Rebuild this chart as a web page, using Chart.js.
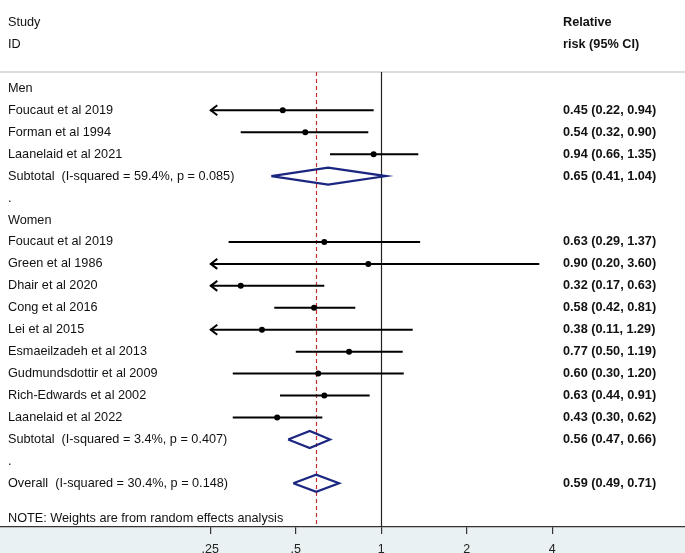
<!DOCTYPE html>
<html>
<head>
<meta charset="utf-8">
<script src="https://cdn.jsdelivr.net/npm/chart.js@4.4.1/dist/chart.umd.min.js"></script>
<style>
  html, body { margin: 0; padding: 0; background: #fff; }
</style>
</head>
<body>
<canvas id="forest" width="685" height="553"></canvas>
<script>
// Men
const menStudies = ['Foucaut et al 2019', 'Forman et al 1994', 'Laanelaid et al 2021'];
const menRR = [0.45, 0.54, 0.94];
const menLower = [0.22, 0.32, 0.66];
const menUpper = [0.94, 0.90, 1.35];
const menSubtotal = [0.65, 0.41, 1.04];
const menHet = 'Subtotal  (I-squared = 59.4%, p = 0.085)';

// Women
const womenStudies = ['Foucaut et al 2019', 'Green et al 1986', 'Dhair et al 2020', 'Cong et al 2016',
    'Lei et al 2015', 'Esmaeilzadeh et al 2013', 'Gudmundsdottir et al 2009', 'Rich-Edwards et al 2002',
    'Laanelaid et al 2022'];
const womenRR = [0.63, 0.90, 0.32, 0.58, 0.38, 0.77, 0.60, 0.63, 0.43];
const womenLower = [0.29, 0.20, 0.17, 0.42, 0.11, 0.50, 0.30, 0.44, 0.30];
const womenUpper = [1.37, 3.60, 0.63, 0.81, 1.29, 1.19, 1.20, 0.91, 0.62];
const womenSubtotal = [0.56, 0.47, 0.66];
const womenHet = 'Subtotal  (I-squared = 3.4%, p = 0.407)';

// Overall
const overall = [0.59, 0.49, 0.71];
const overallHet = 'Overall  (I-squared = 30.4%, p = 0.148)';

// Axis
const xTicks = [0.25, 0.5, 1, 2, 4];
const xTickLabels = ['.25', '.5', '1', '2', '4'];
const xClip = [0.25, 4];

const FONT = '"Liberation Sans", Arial, sans-serif';
const TEXT_COLOR = '#111';
const DIAMOND_COLOR = '#1b2680';

// Build rows (row index = position from top)
const rows = [];
function addGroup(name, studies, rr, lo, hi, sub, het) {
    rows.push({ kind: 'group', label: name });
    studies.forEach((s, i) => rows.push({ kind: 'study', label: s, rr: rr[i], lo: lo[i], hi: hi[i] }));
    rows.push({ kind: 'pooled', label: het, rr: sub[0], lo: sub[1], hi: sub[2] });
    rows.push({ kind: 'blank', label: '.' });
}
addGroup('Men', menStudies, menRR, menLower, menUpper, menSubtotal, menHet);
addGroup('Women', womenStudies, womenRR, womenLower, womenUpper, womenSubtotal, womenHet);
rows.push({ kind: 'pooled', label: overallHet, rr: overall[0], lo: overall[1], hi: overall[2] });
rows.forEach((r, i) => { r.y = i + 3; });

const fmt = v => v.toFixed(2);

// Datasets
const datasets = [];
rows.filter(r => r.kind === 'study').forEach(r => {
    datasets.push({
        data: [{ x: Math.max(r.lo, xClip[0]), y: r.y }, { x: Math.min(r.hi, xClip[1]), y: r.y }],
        showLine: true,
        borderColor: '#000',
        borderWidth: 2,
        pointRadius: 0
    });
});
datasets.push({
    data: rows.filter(r => r.kind === 'study').map(r => ({ x: r.rr, y: r.y })),
    pointRadius: 3,
    backgroundColor: '#000',
    borderWidth: 0
});
const halfH = 0.39;
rows.filter(r => r.kind === 'pooled').forEach(r => {
    datasets.push({
        data: [
            { x: r.lo, y: r.y }, { x: r.rr, y: r.y - halfH }, { x: r.hi, y: r.y },
            { x: r.rr, y: r.y + halfH }, { x: r.lo, y: r.y }
        ],
        showLine: true,
        borderColor: DIAMOND_COLOR,
        borderWidth: 2.2,
        pointRadius: 0
    });
});

// Reference lines, separator, axis background
const backdrop = {
    id: 'backdrop',
    beforeDraw(chart) {
        const { ctx, chartArea } = chart;
        ctx.save();
        ctx.fillStyle = '#e9f1f3';
        ctx.fillRect(0, chartArea.bottom, chart.width, chart.height - chartArea.bottom);
        ctx.restore();
    },
    beforeDatasetsDraw(chart) {
        const { ctx, chartArea, scales } = chart;
        const top = scales.y.getPixelForValue(2.25);
        ctx.save();
        ctx.strokeStyle = '#d0d0d0';
        ctx.lineWidth = 1.5;
        ctx.beginPath();
        ctx.moveTo(0, top);
        ctx.lineTo(chart.width, top);
        ctx.stroke();

        const x1 = Math.round(scales.x.getPixelForValue(1)) + 0.5;
        ctx.strokeStyle = '#222';
        ctx.lineWidth = 1.2;
        ctx.beginPath();
        ctx.moveTo(x1, top);
        ctx.lineTo(x1, chartArea.bottom);
        ctx.stroke();

        const xo = Math.round(scales.x.getPixelForValue(overall[0])) + 0.5;
        ctx.strokeStyle = '#c03030';
        ctx.lineWidth = 1.2;
        ctx.setLineDash([4, 3]);
        ctx.beginPath();
        ctx.moveTo(xo, top);
        ctx.lineTo(xo, chartArea.bottom);
        ctx.stroke();
        ctx.restore();
    }
};

// Labels, estimates and arrowheads
const forestText = {
    id: 'forestText',
    afterDraw(chart) {
        const { ctx, scales } = chart;
        const yPx = v => scales.y.getPixelForValue(v);
        const labelX = 8, estX = 563;
        const reg = '12.7px ' + FONT, bold = 'bold 12.7px ' + FONT;
        ctx.save();
        ctx.fillStyle = TEXT_COLOR;
        ctx.textBaseline = 'middle';
        ctx.font = reg;
        ctx.fillText('Study', labelX, yPx(0));
        ctx.fillText('ID', labelX, yPx(1));
        ctx.font = bold;
        ctx.fillText('Relative', estX, yPx(0));
        ctx.fillText('risk (95% CI)', estX, yPx(1));

        rows.forEach(r => {
            ctx.font = reg;
            ctx.fillText(r.label, labelX, yPx(r.y));
            if (r.kind === 'study' || r.kind === 'pooled') {
                ctx.font = bold;
                ctx.fillText(`${fmt(r.rr)} (${fmt(r.lo)}, ${fmt(r.hi)})`, estX, yPx(r.y));
            }
        });
        ctx.font = reg;
        ctx.fillText('NOTE: Weights are from random effects analysis', labelX, yPx(22.6));

        // arrowheads where the interval runs past the axis range
        ctx.strokeStyle = '#000';
        ctx.lineWidth = 2;
        rows.filter(r => r.kind === 'study').forEach(r => {
            const y = yPx(r.y);
            if (r.lo < xClip[0]) {
                const x = scales.x.getPixelForValue(xClip[0]);
                ctx.beginPath();
                ctx.moveTo(x + 7, y - 5);
                ctx.lineTo(x + 0.5, y);
                ctx.lineTo(x + 7, y + 5);
                ctx.stroke();
            }
            if (r.hi > xClip[1]) {
                const x = scales.x.getPixelForValue(xClip[1]);
                ctx.beginPath();
                ctx.moveTo(x - 7, y - 5);
                ctx.lineTo(x - 0.5, y);
                ctx.lineTo(x - 7, y + 5);
                ctx.stroke();
            }
        });
        ctx.restore();
    }
};

new Chart(document.getElementById('forest').getContext('2d'), {
    type: 'scatter',
    data: { datasets },
    plugins: [backdrop, forestText],
    options: {
        responsive: false,
        animation: false,
        layout: { padding: 0, autoPadding: false },
        plugins: { legend: { display: false }, tooltip: { enabled: false } },
        scales: {
            x: {
                type: 'logarithmic',
                bounds: 'data',
                min: 0.04546,
                max: 11.73,
                afterBuildTicks: scale => { scale.ticks = xTicks.map(v => ({ value: v })); },
                afterFit: scale => { scale.height = 26; },
                border: { display: true, color: '#333', width: 1.2 },
                grid: { drawOnChartArea: false, drawTicks: true, tickLength: 7, color: '#333', lineWidth: 1.2 },
                ticks: {
                    autoSkip: false,
                    maxRotation: 0,
                    padding: 8,
                    color: '#222',
                    font: { family: FONT, size: 12.5 },
                    callback: v => xTickLabels[xTicks.indexOf(v)]
                }
            },
            y: {
                type: 'linear',
                bounds: 'data',
                reverse: true,
                min: -1.026,
                max: 22.99,
                display: false
            }
        }
    }
});
</script>
</body>
</html>
